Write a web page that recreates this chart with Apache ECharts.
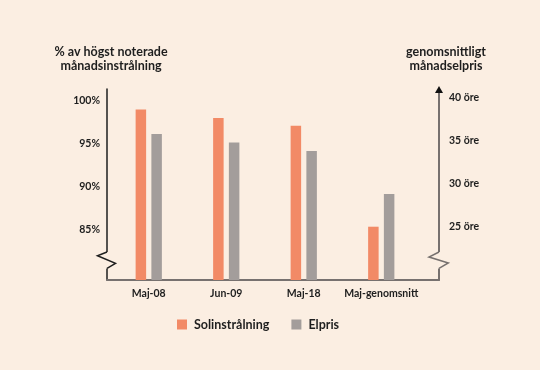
<!DOCTYPE html>
<html><head><meta charset="utf-8">
<script src="https://cdn.jsdelivr.net/npm/echarts@6/dist/echarts.min.js"></script>
<style>html,body{margin:0;padding:0;background:#FBEEE2;}#c{width:540px;height:370px;}</style>
</head><body><div id="c"></div>
<script>
// ---- data ----
const categories = ['Maj-08', 'Jun-09', 'Maj-18', 'Maj-genomsnitt'];
const solinstralning = [99.0, 98.0, 97.1, 85.3];   // % av högst noterade månadsinstrålning
const elpris = [35.8, 34.8, 33.8, 28.8];            // genomsnittligt månadselpris (öre)
const leftTicks = [85, 90, 95, 100];
const rightTicks = [25, 30, 35, 40];
const seriesNames = ['Solinstrålning', 'Elpris'];

// ---- layout / style ----
const BG = '#FBEEE2', ORANGE = '#F28A66', GREY = '#A39D9B', TXT = '#1E1E1E', AXG = '#77716F';
const FONT = 'Lato';
const GT = 89, GB = 280, GL = 107, GR = 439;
const LMIN = 79.07, LMAX = 101.4, RMIN = 18.78, RMAX = 41.04;

const chart = echarts.init(document.getElementById('c'), null, {renderer: 'canvas'});
const lblStyle = {color: TXT, fontFamily: FONT, fontWeight: 'bold', fontSize: 11};

const option = {
  backgroundColor: BG,
  animation: false,
  title: [
    {text: '% av högst noterade\nmånadsinstrålning', left: 106, top: 40, textAlign: 'center',
     textStyle: {color: TXT, fontFamily: FONT, fontWeight: 'bold', fontSize: 12.5, lineHeight: 14}},
    {text: 'genomsnittligt\nmånadselpris', left: 441, top: 40, textAlign: 'center',
     textStyle: {color: TXT, fontFamily: FONT, fontWeight: 'bold', fontSize: 12.5, lineHeight: 14}}
  ],
  legend: {
    data: seriesNames, top: 313, left: 172, itemWidth: 10, itemHeight: 10, itemGap: 22,
    icon: 'rect', textStyle: {color: TXT, fontFamily: FONT, fontWeight: 'bold', fontSize: 12.5, padding: [0, 0, 0, 2]}
  },
  grid: [
    {left: GL + 3, top: GT, width: 310, height: GB - GT},
    {left: GL, top: GT, width: GR - GL, height: GB - GT}
  ],
  xAxis: [
    {type: 'category', gridIndex: 0, data: categories, boundaryGap: true,
     axisLine: {show: false}, axisTick: {show: false},
     axisLabel: Object.assign({margin: 8, interval: 0}, lblStyle, {fontSize: 10.5})},
    {type: 'value', gridIndex: 1, min: 0, max: 1,
     axisLine: {show: true, onZero: false, lineStyle: {color: AXG, width: 2}},
     axisTick: {show: false}, axisLabel: {show: false}, splitLine: {show: false}}
  ],
  yAxis: [
    {type: 'value', gridIndex: 1, position: 'left', min: LMIN, max: LMAX,
     axisLine: {show: true, onZero: false, lineStyle: {color: TXT, width: 1.5}},
     axisTick: {show: false}, splitLine: {show: false},
     axisLabel: Object.assign({customValues: leftTicks, formatter: '{value}%', margin: 7}, lblStyle, {fontSize: 10.5})},
    {type: 'value', gridIndex: 1, position: 'right', min: RMIN, max: RMAX,
     axisLine: {show: true, onZero: false, lineStyle: {color: AXG, width: 2}},
     axisTick: {show: false}, splitLine: {show: false},
     axisLabel: Object.assign({customValues: rightTicks, formatter: '{value} öre', margin: 10}, lblStyle, {fontSize: 10.5})},
    {type: 'value', gridIndex: 0, min: LMIN, max: LMAX, show: false, splitLine: {show: false}},
    {type: 'value', gridIndex: 0, min: RMIN, max: RMAX, show: false, splitLine: {show: false}}
  ],
  series: [
    {name: seriesNames[0], type: 'bar', xAxisIndex: 0, yAxisIndex: 2, data: solinstralning,
     barWidth: 10.5, barGap: '50%', itemStyle: {color: ORANGE}},
    {name: seriesNames[1], type: 'bar', xAxisIndex: 0, yAxisIndex: 3, data: elpris,
     barWidth: 10.5, barGap: '50%', itemStyle: {color: GREY}}
  ]
};
chart.setOption(option);

// axis-break zigzags and arrow head (decoration on the axis lines)
function zig(x, color, pts) {
  return [
    {type: 'rect', z: 100, shape: {x: x - 2, y: 252, width: 4, height: 16.5}, style: {fill: BG}},
    {type: 'polyline', z: 101, shape: {points: pts.map(p => [x + p[0], p[1]])},
     style: {stroke: color, lineWidth: 1.5, fill: null}}
  ];
}
chart.setOption({graphic: [].concat(
  zig(GL, TXT, [[0, 252], [-9.5, 255.7], [8.5, 263.3], [0, 268.3]]),
  zig(GR, AXG, [[0, 252], [-10, 257], [9.3, 263], [0, 268.3]]),
  [{type: 'polygon', z: 101, shape: {points: [[GR, GT - 3], [GR - 4, GT + 4], [GR + 4, GT + 4]]}, style: {fill: '#111'}}]
)});
</script></body></html>
